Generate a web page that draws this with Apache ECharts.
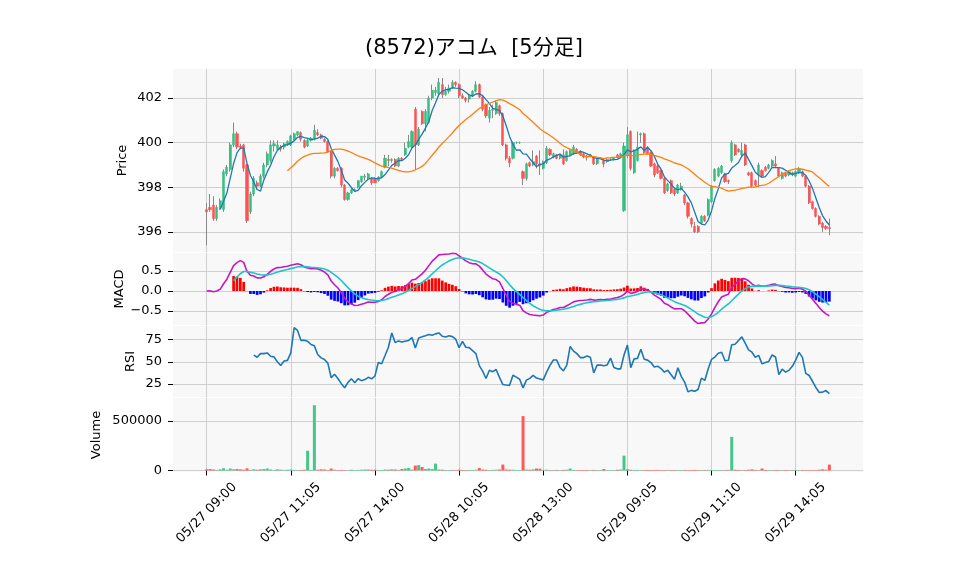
<!DOCTYPE html>
<html><head><meta charset="utf-8">
<script src="https://cdn.jsdelivr.net/npm/echarts@6/dist/echarts.min.js"></script>
<style>html,body{margin:0;padding:0;background:#fff}#c{width:958px;height:575px}</style>
</head><body><div id="c"></div>
<script>
// ---- data ----
const days = ['05/27','05/28','05/29'];
const amStart = '09:00', amEnd = '11:30', pmStart = '12:25', pmEnd = '14:55';
const open = [397.0,397.1,397.2,396.6,397.1,397.0,398.6,398.8,399.9,400.4,
399.85,399.9,399.0,396.9,397.7,398.2,398.05,398.5,399.0,399.2,
399.85,399.7,399.8,399.8,399.9,399.9,400.15,400.35,400.45,400.1,
399.85,400.1,400.15,400.45,400.35,400.15,400.05,399.6,398.5,398.85,
398.85,398.1,397.45,397.75,397.85,398.0,398.25,398.45,398.4,398.4,
398.4,398.3,398.45,398.9,399.25,399.2,399.25,398.95,399.3,399.45,
399.8,399.8,401.5,399.9,401.4,400.85,400.9,402.0,402.25,402.2,
402.6,402.15,402.3,402.45,402.7,402.6,402.1,402.0,401.95,402.1,
402.3,402.6,402.05,401.7,401.1,401.45,401.3,401.65,401.3,399.9,
399.3,399.3,400.0,400.0,398.7,398.4,399.1,399.0,399.4,399.05,
398.85,399.1,399.7,399.35,399.45,399.3,399.45,399.2,399.45,399.5,
399.7,399.6,399.5,399.4,399.4,399.35,399.05,399.3,399.2,399.15,
399.25,399.25,399.45,399.35,396.95,399.4,400.5,398.65,399.2,400.35,
400.4,399.8,399.55,399.05,398.95,398.75,398.4,397.85,398.3,397.9,
397.75,397.9,397.65,397.3,396.6,396.25,396.25,396.4,396.7,396.75,
397.35,398.3,398.5,398.65,398.6,398.3,399.2,399.9,399.7,399.45,
399.9,398.65,398.65,398.3,398.55,398.75,398.9,398.85,398.95,399.05,
398.85,398.4,398.65,398.55,398.65,398.5,398.65,398.7,398.5,398.05,
397.35,397.05,396.7,396.4,396.25,396.2];
const high = [397.3,397.7,397.6,397.2,397.5,398.8,399.0,400.0,400.9,400.5,
399.95,399.95,399.05,397.8,398.5,398.3,398.6,399.1,399.6,400.1,
400.1,400.1,399.9,400.0,400.1,400.35,400.45,400.5,400.5,400.15,
400.2,400.25,400.8,400.6,400.4,400.2,400.1,399.65,398.9,398.9,
398.9,398.15,397.8,397.95,397.95,398.3,398.5,398.6,398.65,398.45,
398.45,398.5,398.75,399.45,399.45,399.3,399.3,399.35,399.35,400.0,
400.35,400.55,401.6,400.7,401.45,401.5,402.1,402.6,402.5,402.9,
402.9,402.5,402.6,402.8,402.75,402.65,402.2,402.05,402.15,402.35,
402.75,402.65,402.1,401.75,401.6,401.7,401.9,401.7,401.35,399.95,
399.4,400.05,400.05,400.05,398.75,399.1,399.15,399.65,399.45,399.65,
399.2,399.85,399.75,399.55,399.5,399.5,399.7,399.65,399.7,399.9,
399.75,399.65,399.55,399.45,399.5,399.4,399.3,399.35,399.25,399.3,
399.3,399.35,399.5,399.55,400.0,400.7,400.55,399.7,400.5,400.45,
400.45,399.85,399.6,399.1,399.0,398.8,398.45,398.2,398.35,398.0,
398.15,398.2,397.7,397.35,396.65,396.45,396.3,396.75,396.75,397.5,
398.1,398.85,398.9,399.0,398.65,398.35,400.1,399.95,399.75,400.0,
399.95,398.7,398.7,398.35,399.1,398.8,398.95,399.05,399.25,399.4,
398.9,398.7,398.7,398.75,398.7,398.75,398.9,398.75,398.55,398.1,
397.4,397.1,396.75,396.45,396.3,396.6];
const low = [395.4,396.9,396.5,396.5,397.0,396.9,398.5,398.7,399.8,399.7,
399.7,398.7,396.4,396.8,397.6,397.9,398.0,398.4,398.9,399.1,
399.6,399.65,399.6,399.7,399.85,399.85,400.1,400.3,400.05,399.75,
399.8,400.05,400.1,400.3,400.15,400.0,399.55,398.4,398.4,398.7,
398.0,397.4,397.4,397.7,397.8,397.95,398.2,398.3,398.35,398.1,
398.2,398.25,398.4,398.85,398.95,399.1,398.9,398.9,399.2,399.4,
399.75,399.75,398.8,399.85,400.8,400.5,400.85,401.9,402.1,402.1,
402.0,402.1,402.2,402.4,402.5,402.0,401.95,401.8,401.8,402.05,
402.25,402.0,401.4,401.1,400.9,401.1,401.25,401.2,399.85,399.2,
398.9,399.25,399.95,399.95,398.1,398.3,398.9,398.95,398.85,398.55,
398.8,399.05,399.4,399.3,399.25,399.25,399.0,399.15,399.4,399.45,
399.5,399.4,399.3,399.2,399.35,399.0,399.0,399.25,398.9,399.1,
399.2,399.2,399.3,399.3,396.9,399.3,398.75,398.6,399.15,400.0,
399.5,399.45,398.9,398.45,398.6,398.35,397.7,397.8,397.7,397.6,
397.7,397.85,397.2,396.6,396.2,395.95,395.95,396.35,396.45,396.7,
397.3,398.25,398.45,398.6,398.2,398.15,399.1,399.4,399.55,399.4,
398.95,398.5,398.0,398.05,398.0,398.45,398.7,398.8,398.9,398.9,
398.45,398.35,398.45,398.5,398.5,398.45,398.6,398.45,398.0,397.25,
397.0,396.65,396.3,396.0,396.1,395.85];
const close = [396.9,397.0,396.6,397.1,397.4,398.7,398.9,399.9,400.4,399.8,
399.8,398.85,396.5,397.7,398.4,398.05,398.5,399.0,399.5,399.9,
399.95,399.9,399.7,399.95,400.05,400.3,400.4,400.5,400.15,399.8,
400.1,400.2,400.55,400.35,400.2,400.05,399.6,398.5,398.85,398.75,
398.1,397.45,397.75,397.9,397.9,398.3,398.5,398.5,398.6,398.2,
398.2,398.45,398.7,399.3,399.2,399.25,398.95,399.3,399.25,399.75,
400.05,400.5,399.9,400.6,400.85,401.4,402.0,402.35,402.35,402.7,
402.15,402.3,402.45,402.7,402.6,402.1,402.0,401.9,402.1,402.3,
402.6,402.05,401.5,401.2,401.45,401.5,401.8,401.3,399.9,399.3,
399.1,400.0,400.0,400.0,398.4,399.05,398.95,399.15,399.05,398.95,
399.15,399.75,399.45,399.5,399.3,399.45,399.05,399.6,399.65,399.8,
399.55,399.45,399.35,399.35,399.45,399.05,399.25,399.3,399.05,399.25,
399.25,399.35,399.35,399.5,399.85,400.35,398.85,399.65,399.8,400.4,
399.55,399.5,398.95,398.55,398.65,398.4,397.75,398.15,397.75,397.7,
398.1,398.05,397.3,396.7,396.35,396.0,396.0,396.7,396.5,397.45,
398.05,398.8,398.85,398.95,398.25,398.25,400.0,399.45,399.6,399.65,
399.0,398.55,398.05,398.1,399.0,398.5,398.75,399.0,399.2,398.95,
398.5,398.65,398.5,398.7,398.55,398.7,398.85,398.5,398.05,397.3,
397.05,396.7,396.35,396.2,396.15,396.15];
const volume = [12000,15000,10000,6000,12000,22000,8000,20000,12000,15000,
12000,8000,22000,5000,12000,8000,12000,15000,20000,10000,
5000,12000,8000,6000,8000,10000,6000,5000,6000,8000,
200000,6000,660000,8000,12000,10000,5000,20000,8000,5000,
6000,5000,4000,8000,5000,6000,8000,10000,10000,8000,
8000,5000,5000,10000,8000,12000,10000,6000,15000,20000,
25000,10000,50000,55000,35000,15000,20000,15000,70000,10000,
8000,5000,5000,6000,5000,8000,5000,5000,6000,5000,
8000,25000,10000,8000,5000,6000,8000,10000,60000,10000,
8000,8000,5000,5000,550000,10000,8000,12000,20000,18000,
6000,8000,5000,5000,6000,5000,6000,8000,20000,6000,
5000,5000,5000,6000,5000,6000,5000,5000,15000,5000,
5000,5000,8000,10000,150000,12000,8000,6000,6000,5000,
5000,6000,5000,5000,6000,5000,5000,6000,5000,5000,
5000,5000,6000,5000,5000,6000,5000,5000,5000,6000,
5000,5000,5000,5000,5000,6000,340000,8000,6000,5000,
5000,8000,12000,6000,5000,20000,6000,5000,5000,5000,
5000,5000,5000,5000,5000,5000,5000,6000,5000,5000,
5000,5000,8000,12000,8000,60000];
const priceTicks = [396,398,400,402];
const macdTicks = [-0.5,0,0.5];
const rsiTicks = [25,50,75];
const volTicks = [0,500000];
const labelEvery = 25;

// ---- categories ----
function slots(a,b){const [h0,m0]=a.split(':').map(Number),[h1,m1]=b.split(':').map(Number);const o=[];for(let t=h0*60+m0;t<=h1*60+m1;t+=5){o.push(String(Math.floor(t/60)).padStart(2,'0')+':'+String(t%60).padStart(2,'0'));}return o;}
const daySlots = slots(amStart,amEnd).concat(slots(pmStart,pmEnd));
const times = [];
days.forEach(d=>daySlots.forEach(t=>times.push(d+' '+t)));
const N = close.length;
const PAD = 10;
const padArr = Array(PAD).fill('');
const cats = padArr.concat(times, padArr);
const P = a => Array(PAD).fill('-').concat(a, Array(PAD).fill('-'));

// ---- indicators derived from close ----
function sma(a,n){return a.map((v,i)=>{if(i<n-1)return '-';let s=0;for(let j=i-n+1;j<=i;j++)s+=a[j];return s/n;});}
function ema(a,span){const k=2/(span+1);const o=[];a.forEach((v,i)=>o.push(i===0?v:k*v+(1-k)*o[i-1]));return o;}
const ma5 = sma(close,5), ma25 = sma(close,25);
const e12 = ema(close,12), e26 = ema(close,26);
const macd = e12.map((v,i)=>v-e26[i]);
const sig = ema(macd,9);
const hist = macd.map((v,i)=>v-sig[i]);
const rsi = close.map((v,i)=>{if(i<14)return '-';let g=0,l=0;for(let j=i-13;j<=i;j++){const d=close[j]-close[j-1];if(d>0)g+=d;else l-=d;}return g+l===0?50:100*g/(g+l);});

const UP='#35bf80', DN='#ff5252';
const wick = open.map((o,i)=>[o,close[i],low[i],high[i]]);
const body = open.map((o,i)=>[o,close[i],Math.min(o,close[i]),Math.max(o,close[i])]);
const histData = hist.map((v,i)=> i<8 ? '-' : {value:v,itemStyle:{color:v>=0?'#ff0000':'#0000ff'}});
const sigData = sig.map((v,i)=> i<8 ? '-' : v);
const volData = volume.map((v,i)=>({value:v,itemStyle:{color:close[i]>=open[i]?'#45c68a':'#ff5a5a'}}));

const FONT = 'DejaVu Sans';
const TFONT = '"DejaVu Sans", "Noto Sans CJK JP"';
const showIdx = idx => idx>=PAD && idx<PAD+N && (idx-PAD)%labelEvery===0;
const L = 173, W = 690;
const grids = [
  {left:L,width:W,top:69,height:183},
  {left:L,width:W,top:253,height:72},
  {left:L,width:W,top:326,height:71},
  {left:L,width:W,top:398,height:74}
].map(g=>Object.assign(g,{show:true,backgroundColor:'#f8f8f8',borderWidth:0}));

const xAxes = [0,1,2,3].map(k=>({
  type:'category',gridIndex:k,data:cats,boundaryGap:false,
  axisLine:{show:false},
  axisTick:{show:k===3,interval:(i)=>showIdx(i),length:5,lineStyle:{color:'#000'}},
  axisLabel:{show:k===3,interval:(i)=>showIdx(i),rotate:45,align:'center',verticalAlign:'middle',margin:41,
    fontSize:13,color:'#000',fontFamily:FONT},
  splitLine:{show:true,interval:(i)=>showIdx(i),lineStyle:{color:'#cfcfcf',width:1}}
}));
function yax(k,min,max,ticks,name,gap){
  return {type:'value',gridIndex:k,min:min,max:max,position:'left',
    name:name,nameLocation:'middle',nameGap:gap,nameRotate:90,nameMoveOverlap:false,
    nameTextStyle:{fontSize:13,color:'#000',fontFamily:FONT},
    axisLine:{show:false},
    axisTick:{show:true,length:5,customValues:ticks,lineStyle:{color:'#000'}},
    axisLabel:{customValues:ticks,margin:11,fontSize:13,color:'#000',fontFamily:FONT,formatter:(v=>String(v))},
    splitLine:{show:true,lineStyle:{color:'#cfcfcf',width:1}}};
}
const yAxes = [
  yax(0,395.1,403.3,priceTicks,'Price',44),
  yax(1,-0.85,0.95,macdTicks,'MACD',47),
  yax(2,10.6,90,rsiTicks,'RSI',36),
  yax(3,-15000,733000,volTicks,'Volume',70)
];
yAxes[1].axisLabel.formatter = v=>(v<0?'\u2212':'')+Math.abs(v).toFixed(1);

const chart = echarts.init(document.getElementById('c'),null,{renderer:'canvas'});
chart.setOption({
  animation:false,
  backgroundColor:'#fff',
  title:{text:'(8572)アコム  [5分足]',left:360,top:33,textStyle:{fontSize:21,fontWeight:'normal',color:'#000',fontFamily:TFONT}},
  grid:grids, xAxis:xAxes, yAxis:yAxes,
  series:[
    {type:'candlestick',xAxisIndex:0,yAxisIndex:0,data:P(wick),barWidth:1,z:1,
     itemStyle:{color:'#888',color0:'#888',borderColor:'#888',borderColor0:'#888',borderWidth:1}},
    {type:'candlestick',xAxisIndex:0,yAxisIndex:0,data:P(body),barWidth:2.6,z:2,
     itemStyle:{color:UP,color0:DN,borderColor:UP,borderColor0:DN,borderWidth:0.5}},
    {type:'line',xAxisIndex:0,yAxisIndex:0,data:P(ma5),showSymbol:false,z:3,lineStyle:{color:'#1f77b4',width:1.3}},
    {type:'line',xAxisIndex:0,yAxisIndex:0,data:P(ma25),showSymbol:false,z:3,lineStyle:{color:'#ff7f0e',width:1.3}},
    {type:'bar',xAxisIndex:1,yAxisIndex:1,data:P(histData),barWidth:2.7,z:2},
    {type:'line',xAxisIndex:1,yAxisIndex:1,data:P(macd),showSymbol:false,z:3,lineStyle:{color:'#c21ac2',width:1.6}},
    {type:'line',xAxisIndex:1,yAxisIndex:1,data:P(sigData),showSymbol:false,z:3,lineStyle:{color:'#1fc4c8',width:1.6}},
    {type:'line',xAxisIndex:2,yAxisIndex:2,data:P(rsi),showSymbol:false,z:3,lineStyle:{color:'#1f77b4',width:1.6}},
    {type:'bar',xAxisIndex:3,yAxisIndex:3,data:P(volData),barWidth:3,z:2}
  ]
});
</script></body></html>
